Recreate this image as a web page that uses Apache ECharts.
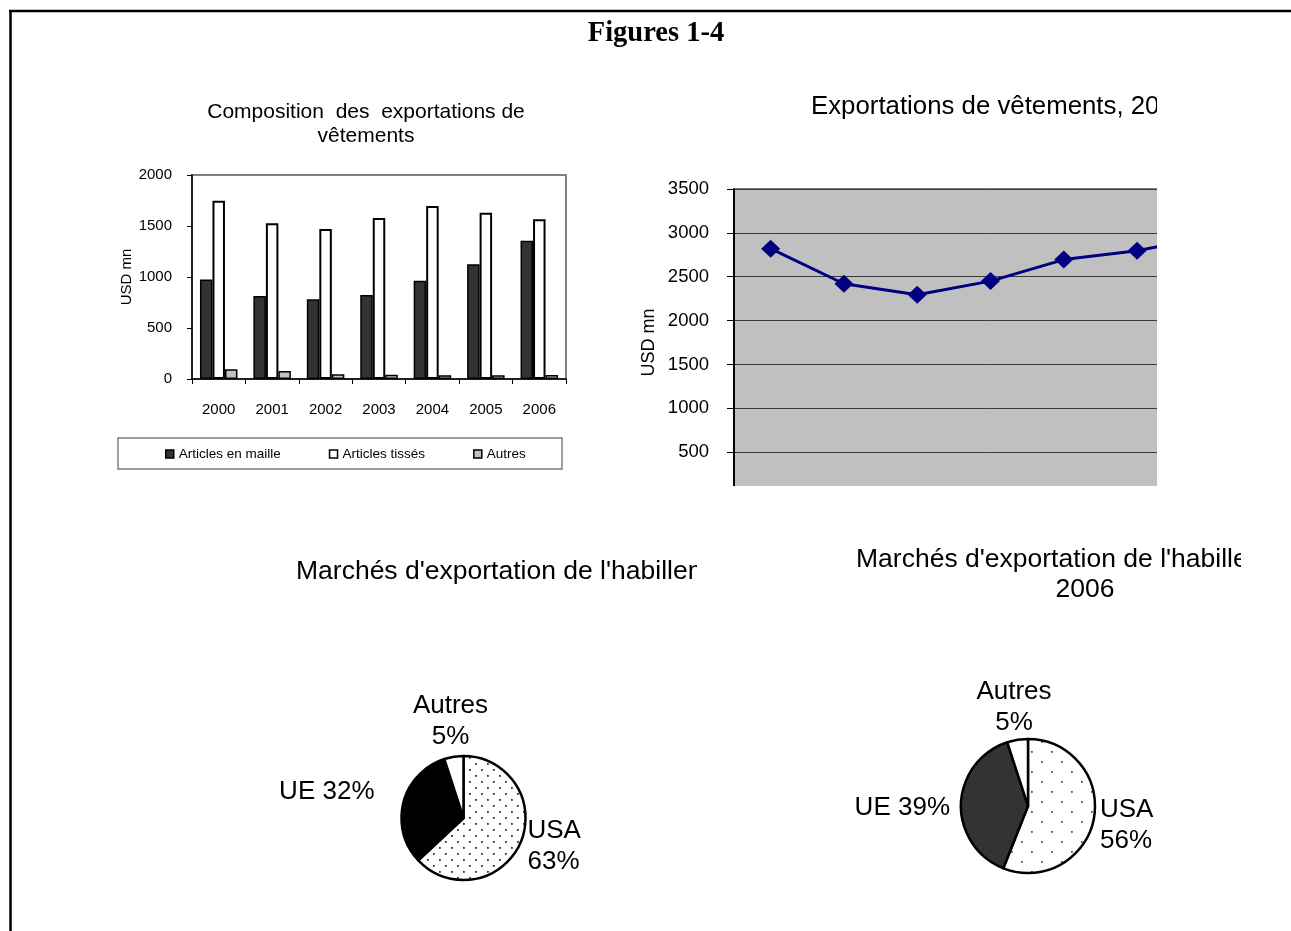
<!DOCTYPE html>
<html>
<head>
<meta charset="utf-8">
<script src="https://cdn.jsdelivr.net/npm/echarts@6/dist/echarts.min.js"></script>
<style>
html,body{margin:0;padding:0;background:#fff;}
#chart{width:1291px;height:931px;}
</style>
</head>
<body>
<div id="chart"></div>
<script>
// ---------- DATA ----------
const years = ['2000', '2001', '2002', '2003', '2004', '2005', '2006'];
const maille = [975, 814, 781, 823, 964, 1124, 1356];
const tisses = [1748, 1526, 1470, 1578, 1696, 1631, 1565];
const autres = [95, 78, 46, 42, 36, 36, 39];
const totalExports = [2820, 2420, 2295, 2450, 2695, 2795, 2960];
const barSeriesNames = ['Articles en maille', 'Articles tissés', 'Autres'];
const pieNames = ['USA', 'UE', 'Autres'];
const pie2000 = [63, 32, 5];
const pie2006 = [56, 39, 5];

// ---------- STYLE ----------
const SANS = '"Liberation Sans", Arial, sans-serif';
const SERIF = '"Liberation Serif", "Times New Roman", serif';

function makeDots(step, dot, color) {
  const c = document.createElement('canvas');
  c.width = step * 2; c.height = step * 2;
  const g = c.getContext('2d');
  g.fillStyle = '#ffffff';
  g.fillRect(0, 0, c.width, c.height);
  g.fillStyle = color;
  g.fillRect(1, 1, dot, dot);
  g.fillRect(1 + step, 1 + step, dot, dot);
  return c;
}
const dots1 = makeDots(6, 1.8, '#333');
const dots2 = makeDots(10, 1.8, '#555');

const pie1Center = [463.5, 818], pie1R = 62;
const pie2Center = [1028, 806], pie2R = 67;
// label anchors relative to pie center: [dx, dy, align]
const pie1Labels = [[64, 28, 'left'], [-89, -26, 'right'], [-13, -97, 'center']];
const pie2Labels = [[72, 19, 'left'], [-78, 2, 'right'], [-14, -99, 'center']];

function plainNum(v) { return String(v); }
function pieLabelFmt(p) {
  return p.name === 'UE' ? p.name + ' ' + p.value + '%' : p.name + '\n' + p.value + '%';
}
function pieLayout(center, anchors) {
  return function (params) {
    const a = anchors[params.dataIndex];
    return { x: center[0] + a[0], y: center[1] + a[1], align: a[2], verticalAlign: 'middle' };
  };
}

const chart = echarts.init(document.getElementById('chart'), null, { renderer: 'canvas' });

const option = {
  animation: false,
  backgroundColor: '#ffffff',
  textStyle: { fontFamily: SANS, color: '#000' },
  grid: [
    { left: 192, top: 175, width: 374, height: 204, show: true, borderColor: '#808080', borderWidth: 2, backgroundColor: '#ffffff' },
    { left: 734, top: 189, width: 513, height: 307, show: true, borderColor: '#808080', borderWidth: 2, backgroundColor: '#c0c0c0' }
  ],
  xAxis: [
    {
      gridIndex: 0, type: 'category', data: years,
      axisLine: { lineStyle: { color: '#000', width: 1.5 } },
      axisTick: { show: true, length: 5, lineStyle: { color: '#000' } },
      axisLabel: { fontSize: 15, color: '#000', margin: 23, fontFamily: SANS }
    },
    {
      gridIndex: 1, type: 'category', data: years,
      axisLine: { show: false }, axisTick: { show: false }, axisLabel: { show: false }
    }
  ],
  yAxis: [
    {
      gridIndex: 0, type: 'value', min: 0, max: 2000, interval: 500,
      name: 'USD mn', nameLocation: 'middle', nameRotate: 90, nameGap: 52,
      nameTextStyle: { fontSize: 15, color: '#000', fontFamily: SANS },
      axisLine: { show: true, lineStyle: { color: '#000', width: 1.5 } },
      axisTick: { show: true, length: 5, lineStyle: { color: '#000' } },
      axisLabel: { fontSize: 15, color: '#000', margin: 20, fontFamily: SANS, formatter: plainNum },
      splitLine: { show: false }
    },
    {
      gridIndex: 1, type: 'value', min: 0, max: 3500, interval: 500,
      name: 'USD mn', nameLocation: 'middle', nameRotate: 90, nameGap: 76,
      nameTextStyle: { fontSize: 18, color: '#000', fontFamily: SANS },
      axisLine: { show: true, lineStyle: { color: '#000', width: 2 } },
      axisTick: { show: true, length: 7, lineStyle: { color: '#000' } },
      axisLabel: { fontSize: 18.5, color: '#000', margin: 25, fontFamily: SANS, showMinLabel: false, formatter: plainNum },
      splitLine: { show: true, lineStyle: { color: '#3a3a3a', width: 1 } }
    }
  ],
  legend: {
    data: barSeriesNames,
    left: 165, top: 447, padding: 0,
    itemWidth: 8, itemHeight: 8, itemGap: 48, icon: 'rect',
    selectedMode: false,
    textStyle: { fontSize: 13.5, color: '#000', fontFamily: SANS },
    itemStyle: { borderColor: '#000', borderWidth: 1.5 }
  },
  series: [
    {
      name: barSeriesNames[0], type: 'bar', xAxisIndex: 0, yAxisIndex: 0, data: maille,
      barWidth: 12.5, barGap: '0%',
      itemStyle: { color: '#333333', borderColor: '#000', borderWidth: 1.5 }
    },
    {
      name: barSeriesNames[1], type: 'bar', xAxisIndex: 0, yAxisIndex: 0, data: tisses,
      barWidth: 12.5, barGap: '0%',
      itemStyle: { color: '#ffffff', borderColor: '#000', borderWidth: 2 }
    },
    {
      name: barSeriesNames[2], type: 'bar', xAxisIndex: 0, yAxisIndex: 0, data: autres,
      barWidth: 12.5, barGap: '0%',
      itemStyle: { color: '#c0c0c0', borderColor: '#000', borderWidth: 1.5 }
    },
    {
      name: 'Exportations', type: 'line', xAxisIndex: 1, yAxisIndex: 1, data: totalExports,
      symbol: 'diamond', symbolSize: [19, 18],
      lineStyle: { color: '#000080', width: 3 },
      itemStyle: { color: '#000080' }
    },
    {
      name: 'Marchés 2000', type: 'pie', center: pie1Center, radius: pie1R,
      startAngle: 90, clockwise: true, silent: true,
      data: pieNames.map((n, i) => ({
        name: n, value: pie2000[i],
        itemStyle: { color: i === 0 ? { image: dots1, repeat: 'repeat' } : (i === 1 ? '#000000' : '#ffffff') }
      })),
      itemStyle: { borderColor: '#000', borderWidth: 2.5 },
      label: { show: true, position: 'outside', formatter: pieLabelFmt, fontSize: 26, lineHeight: 31, color: '#000', fontFamily: SANS },
      labelLine: { show: false },
      labelLayout: pieLayout(pie1Center, pie1Labels)
    },
    {
      name: 'Marchés 2006', type: 'pie', center: pie2Center, radius: pie2R,
      startAngle: 90, clockwise: true, silent: true,
      data: pieNames.map((n, i) => ({
        name: n, value: pie2006[i],
        itemStyle: { color: i === 0 ? { image: dots2, repeat: 'repeat' } : (i === 1 ? '#333333' : '#ffffff') }
      })),
      itemStyle: { borderColor: '#000', borderWidth: 2.5 },
      label: { show: true, position: 'outside', formatter: pieLabelFmt, fontSize: 26, lineHeight: 31, color: '#000', fontFamily: SANS },
      labelLine: { show: false },
      labelLayout: pieLayout(pie2Center, pie2Labels)
    }
  ],
  graphic: [
    // page frame
    { type: 'line', z: 200, shape: { x1: 9, y1: 11, x2: 1291, y2: 11 }, style: { stroke: '#000', lineWidth: 2.5 } },
    { type: 'line', z: 200, shape: { x1: 10.5, y1: 10, x2: 10.5, y2: 931 }, style: { stroke: '#000', lineWidth: 2.5 } },
    // clipping covers
    { type: 'rect', z: 150, shape: { x: 1157, y: 60, width: 134, height: 440 }, style: { fill: '#fff' } },
    { type: 'rect', z: 150, shape: { x: 640, y: 486, width: 520, height: 30 }, style: { fill: '#fff' } },
    { type: 'rect', z: 150, shape: { x: 1241, y: 530, width: 50, height: 80 }, style: { fill: '#fff' } },
    { type: 'rect', z: 150, shape: { x: 697, y: 548, width: 150, height: 48 }, style: { fill: '#fff' } },
    // legend frame
    { type: 'rect', z: 10, shape: { x: 118, y: 438, width: 444, height: 31 }, style: { fill: 'none', stroke: '#808080', lineWidth: 1.5 } },
    // titles
    { type: 'text', z: 100, x: 656, y: 34, style: { text: 'Figures 1-4', font: 'bold 28.5px ' + SERIF, fill: '#000', textAlign: 'center', textVerticalAlign: 'middle' } },
    { type: 'text', z: 100, x: 366, y: 124, style: { text: 'Composition  des  exportations de\nvêtements', font: '21px ' + SANS, lineHeight: 24, fill: '#000', textAlign: 'center', textVerticalAlign: 'middle' } },
    { type: 'text', z: 100, x: 811, y: 107, style: { text: 'Exportations de vêtements, 2000-2006', font: '25.8px ' + SANS, fill: '#000', textAlign: 'left', textVerticalAlign: 'middle' } },
    { type: 'text', z: 100, x: 296, y: 572, style: { text: "Marchés d'exportation de l'habillement, 2000", font: '26.5px ' + SANS, fill: '#000', textAlign: 'left', textVerticalAlign: 'middle' } },
    { type: 'text', z: 100, x: 1085, y: 575, style: { text: "Marchés d'exportation de l'habillement,\n2006", font: '26.5px ' + SANS, lineHeight: 30, fill: '#000', textAlign: 'center', textVerticalAlign: 'middle' } }
  ]
};
chart.setOption(option);
</script>
</body>
</html>
